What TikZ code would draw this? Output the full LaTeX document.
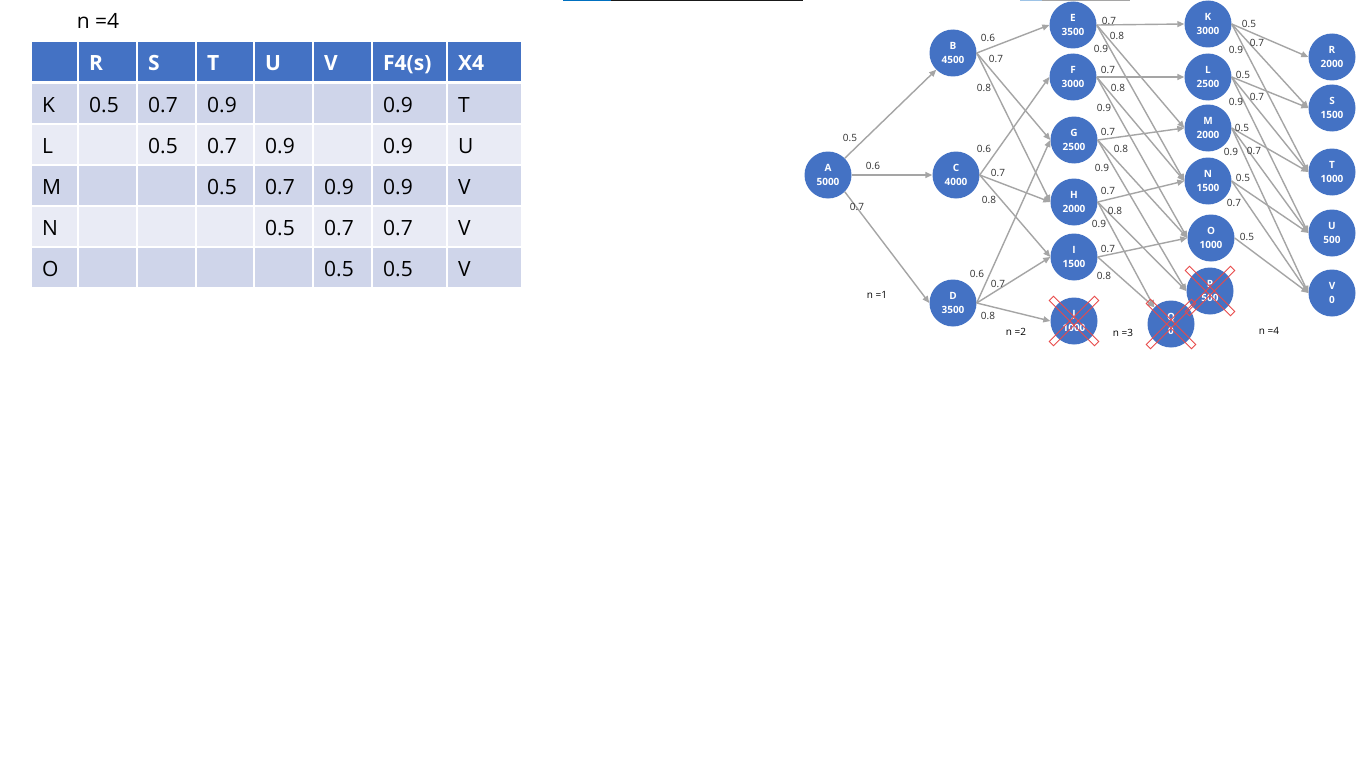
\documentclass[tikz,border=0pt]{standalone}
\usepackage{fontspec}
\setmainfont{Open Sans}
\usepackage{tikz}
\usetikzlibrary{arrows.meta,positioning,matrix}
\definecolor{nodeblue}{HTML}{4472C4}
\definecolor{rowdark}{HTML}{CFD5EA}
\definecolor{rowlight}{HTML}{E9EBF5}
\definecolor{edgegray}{HTML}{A5A5A5}
\definecolor{labelgray}{HTML}{303030}
\definecolor{strikered}{HTML}{E84A4A}
\definecolor{stripblue}{HTML}{0070C0}
\definecolor{stripsky}{HTML}{9DC3E6}
\tikzset{
  stage/.style    ={circle,fill=nodeblue,text=white,align=center,minimum size=47pt,inner sep=0pt,
                    font=\fontsize{10}{14}\selectfont\bfseries},
  arrow/.style    ={-{Triangle[length=7pt,width=6pt]},draw=edgegray,line width=1.4pt},
  wlabel/.style   ={font=\fontsize{10}{12}\selectfont,text=labelgray,inner sep=0pt},
  stagelbl/.style ={font=\fontsize{10}{12}\selectfont,text=black,inner sep=0pt},
  strike/.style   ={draw=strikered,line width=0.9pt,rectangle,minimum width=64pt,minimum height=6pt,inner sep=0pt},
  cell/.style     ={font=\fontsize{21}{25}\selectfont,inner xsep=10pt,inner ysep=0pt,align=left,
                    minimum height=39pt,text height=18.5pt,text depth=1.5pt},
  hdr/.style      ={fill=nodeblue,text=white,font=\fontsize{21}{25}\selectfont\bfseries}
}

\begin{document}
\begin{tikzpicture}[x=1pt,y=-1pt]
  \useasboundingbox[fill=white] (0,0) rectangle (1366,768);
  % stray underline bits along the top edge
  \fill[stripblue] (563,0) rectangle (611,1.5);
  \fill[black!90] (611,0) rectangle (803,1.5);
  \fill[stripsky] (1020,0) rectangle (1042,1.5);
  \fill[edgegray] (1042,0) rectangle (1130,1.5);

  % decision table for n=4
  \node[font=\fontsize{21}{25}\selectfont] (tabtitle) at (98,21) {n =4};
  \matrix[matrix of nodes, nodes in empty cells, anchor=north west, inner sep=0pt,
          column sep=2pt, row sep=2pt, nodes={cell},
          row 1/.style={nodes={hdr}},
          row 2/.style={nodes={fill=rowdark}}, row 3/.style={nodes={fill=rowlight}},
          row 4/.style={nodes={fill=rowdark}}, row 5/.style={nodes={fill=rowlight}},
          row 6/.style={nodes={fill=rowdark}},
          column 1/.style={nodes={text width=25pt}}, column 2/.style={nodes={text width=37pt}},
          column 3/.style={nodes={text width=37pt}}, column 4/.style={nodes={text width=36pt}},
          column 5/.style={nodes={text width=37pt}}, column 6/.style={nodes={text width=37pt}},
          column 7/.style={nodes={text width=53pt}}, column 8/.style={nodes={text width=53pt}}]
    (tab) at (32,42) {
      & R & S & T & U & V & F4(s) & X4 \\[1pt]
    K & 0.5 & 0.7 & 0.9 & & & 0.9 & T \\
    L & & 0.5 & 0.7 & 0.9 & & 0.9 & U \\
    M & & & 0.5 & 0.7 & 0.9 & 0.9 & V \\
    N & & & & 0.5 & 0.7 & 0.7 & V \\
    O & & & & & 0.5 & 0.5 & V \\
  };

  % network stages
  \node[stage] (a) at (828,175) {A\\5000};
  \node[stage] (b) at (953,53)  {B\\4500};
  \node[stage] (c) at (956,175) {C\\4000};
  \node[stage] (d) at (953,303) {D\\3500};
  \node[stage] (e) at (1073,25)  {E\\3500};
  \node[stage] (f) at (1073,77)  {F\\3000};
  \node[stage] (g) at (1074,140) {G\\2500};
  \node[stage] (h) at (1074,202) {H\\2000};
  \node[stage] (i) at (1074,257) {I\\1500};
  \node[stage] (j) at (1074,321) {J\\1000};
  \node[stage] (k) at (1208,24)  {K\\3000};
  \node[stage] (l) at (1208,77)  {L\\2500};
  \node[stage] (m) at (1208,128) {M\\2000};
  \node[stage] (n) at (1208,181) {N\\1500};
  \node[stage] (o) at (1211,238) {O\\1000};
  \node[stage] (p) at (1210,291) {P\\500};
  \node[stage] (q) at (1171,324) {Q\\0};
  \node[stage] (r) at (1332,57)  {R\\2000};
  \node[stage] (s) at (1332,108) {S\\1500};
  \node[stage] (t) at (1332,172) {T\\1000};
  \node[stage] (u) at (1332,233) {U\\500};
  \node[stage] (v) at (1332,293) {V\\0};

  \foreach \s/\t/\w/\lx/\ly [count=\k] in {
      a.45/b.225/0.5/850/138, a.east/c.west/0.6/873/166, a.-45/d.west/0.7/857/207,
      b.east/e.west/0.6/988/38, b.east/g.west/0.7/996/59, b.east/h.west/0.8/984/88,
      c.east/f.west/0.6/984/149, c.east/h.west/0.7/998/173, c.east/i.west/0.8/989/200,
      d.east/g.west/0.6/977/274, d.east/i.west/0.7/998/284, d.east/j.west/0.8/988/316,
      e.east/k.west/0.7/1109/21, e.east/m.west/0.8/1117/36, e.east/n.west/0.9/1101/49,
      f.east/l.west/0.7/1108/70, f.east/n.west/0.8/1118/88, f.east/o.west/0.9/1104/108,
      g.east/m.west/0.7/1108/132, g.east/o.west/0.8/1121/149, g.east/p.west/0.9/1102/168,
      h.east/n.west/0.7/1108/191, h.east/p.west/0.8/1115/211, h.east/q.135/0.9/1099/224,
      i.east/o.west/0.7/1108/249, i.east/q.135/0.8/1104/276,
      k.east/r.west/0.5/1249/24, k.east/s.west/0.7/1257/43, k.east/t.west/0.9/1236/50,
      l.east/s.west/0.5/1243/75, l.east/t.west/0.7/1257/97, l.east/u.west/0.9/1236/102,
      m.east/t.west/0.5/1242/128, m.east/u.west/0.7/1254/151, m.east/v.west/0.9/1231/152,
      n.east/u.west/0.5/1243/178, n.east/v.west/0.7/1234/203,
      o.east/v.west/0.5/1247/237}
  {
    \draw[arrow] (\s) -- (\t);
    \node[wlabel] (w\k) at (\lx,\ly) {\w};
  }

  % discarded states
  \foreach \x in {j,p,q} {
    \node[strike,rotate=45]  (\x-x1) at (\x) {};
    \node[strike,rotate=-45] (\x-x2) at (\x) {};
  }

  \node[stagelbl] (n1) at (877,295)  {n =1};
  \node[stagelbl] (n2) at (1016,332) {n =2};
  \node[stagelbl] (n3) at (1123,333) {n =3};
  \node[stagelbl] (n4) at (1269,331) {n =4};
\end{tikzpicture}
\end{document}
